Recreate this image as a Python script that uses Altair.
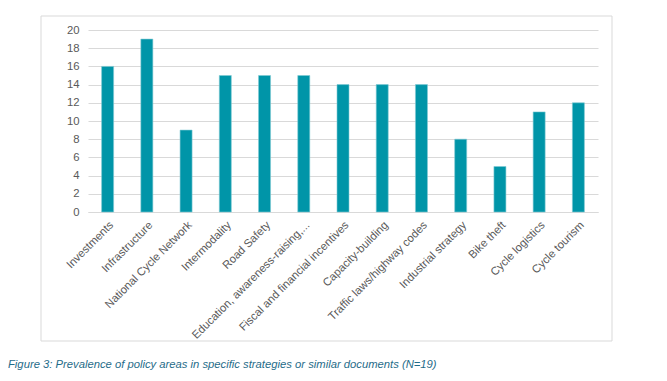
import altair as alt
import pandas as pd

categories = [
    "Investments", "Infrastructure", "National Cycle Network", "Intermodality",
    "Road Safety", "Education, awareness-raising,...", "Fiscal and financial incentives",
    "Capacity-building", "Traffic laws/highway codes", "Industrial strategy",
    "Bike theft", "Cycle logistics", "Cycle tourism",
]
values = [16, 19, 9, 15, 15, 15, 14, 14, 14, 8, 5, 11, 12]
y_ticks = list(range(0, 21, 2))
caption = "Figure 3: Prevalence of policy areas in specific strategies or similar documents (N=19)"

df = pd.DataFrame({"category": categories, "value": values})

W, H = 510, 182

frame = alt.Chart(pd.DataFrame({"a": [0]})).mark_rect(
    fill="transparent", stroke="#d9d9d9", strokeWidth=1
).encode(
    x=alt.value(-47), x2=alt.value(524), y=alt.value(-14), y2=alt.value(311)
)

bars = alt.Chart(df).mark_bar(
    color="#0095A8", stroke="#7fcad3", strokeWidth=0.6, width=12
).encode(
    x=alt.X("category:N", sort=categories, title=None,
            scale=alt.Scale(paddingInner=0.0, paddingOuter=0.0),
            axis=alt.Axis(labelAngle=-45, labelAlign="right", labelBaseline="top",
                          labelPadding=7, ticks=False, domain=True, domainColor="#d9d9d9",
                          domainWidth=1.2, labelFont="Liberation Sans", labelFontSize=11.3,
                          labelColor="#595959", labelLimit=300)),
    y=alt.Y("value:Q", title=None,
            scale=alt.Scale(domain=[0, 20], nice=False),
            axis=alt.Axis(values=y_ticks, ticks=False, domain=False, grid=True,
                          gridColor="#d9d9d9", gridWidth=1, labelPadding=9,
                          labelFont="Liberation Sans", labelFontSize=11.3,
                          labelColor="#595959")),
)

cap = alt.Chart(pd.DataFrame({"t": [caption]})).mark_text(
    align="left", baseline="middle", font="Liberation Sans", fontSize=11.25,
    fontStyle="italic", color="#1f6c89"
).encode(
    text="t:N", x=alt.value(-80), y=alt.value(335)
)

chart = alt.layer(frame, bars, cap).properties(
    width=W, height=H,
    autosize=alt.AutoSizeParams(type="none"),
    padding={"left": 80, "top": 22, "right": 61, "bottom": 161},
).configure_view(stroke=None)

chart.save("out.html", embed_options={"renderer": "svg", "actions": False})
